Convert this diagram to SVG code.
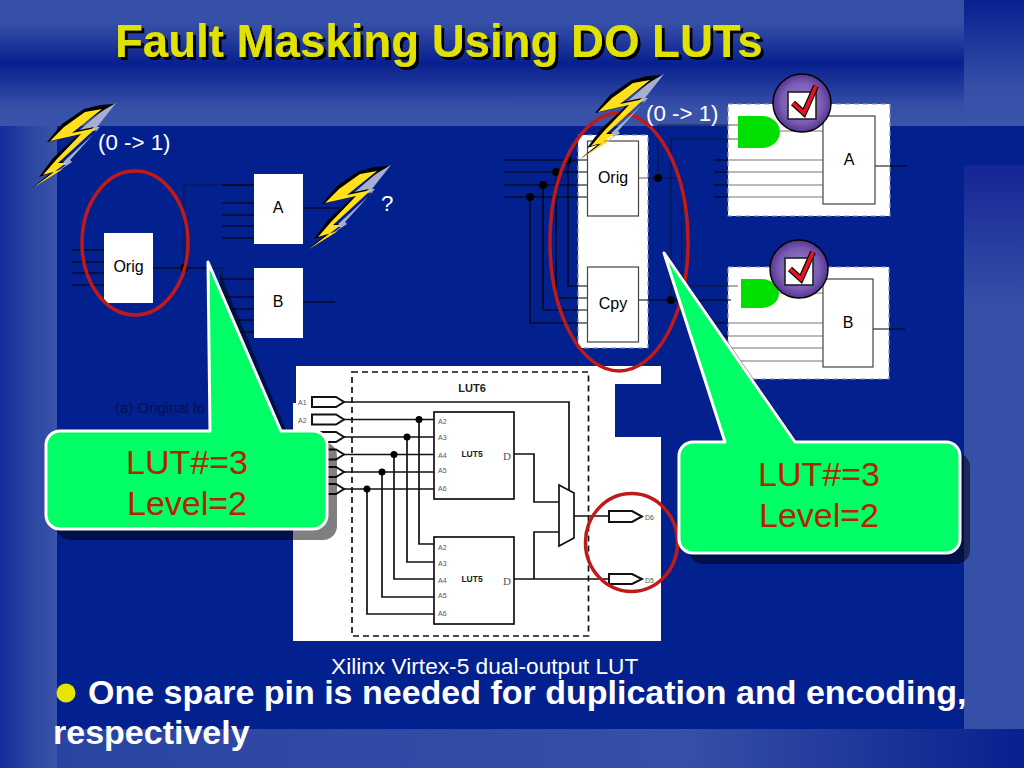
<svg xmlns="http://www.w3.org/2000/svg" xmlns:xlink="http://www.w3.org/1999/xlink" width="1024" height="768" viewBox="0 0 1024 768">
<style>
text{font-family:"Liberation Sans",Arial,sans-serif}
.w{fill:none;stroke:#000;stroke-width:1.2}
.thin{fill:none;stroke:#111;stroke-width:.7}
.g{fill:none;stroke:#777;stroke-width:1.2}
.box{fill:#fff;stroke:#444;stroke-width:1.2}
.plain{fill:#fff}
.lut{fill:none;stroke:#111;stroke-width:1.7}
.panel{fill:#fff;stroke:#8a93b8;stroke-width:1.2;stroke-dasharray:5 4}
.dot{fill:#000}
.red{fill:none;stroke:#bf1a1a;stroke-width:3.5}
.lbl{fill:#000;font-size:16px;text-anchor:middle}
.wl{fill:#fff;font-size:22.3px}
.tiny{fill:#555;font-size:7px}
.call{fill:#00ff66;stroke:#fff;stroke-width:3;stroke-linejoin:round}
.shadow{fill:#000;opacity:.5}
.ct{fill:#b32400;font-size:34px;text-anchor:middle}
.gate{fill:#00e000}
.port{fill:#fff;stroke:#111;stroke-width:2}
</style>
<defs>
<linearGradient id="top" x1="0" y1="0" x2="0" y2="1"><stop offset="0" stop-color="#3650a8"/><stop offset=".18" stop-color="#3650a8"/><stop offset=".5" stop-color="#08208f"/><stop offset=".85" stop-color="#3650a8"/><stop offset="1" stop-color="#3a54aa"/></linearGradient>
<linearGradient id="rtop" x1="0" y1="0" x2="0" y2="1"><stop offset="0" stop-color="#08208f"/><stop offset=".7" stop-color="#3650a8"/><stop offset="1" stop-color="#3a54aa"/></linearGradient>
<linearGradient id="rmid" x1="0" y1="0" x2="0" y2="1"><stop offset="0" stop-color="#152595"/><stop offset=".25" stop-color="#3650a8"/><stop offset="1" stop-color="#3650a8"/></linearGradient>
<linearGradient id="left" x1="0" y1="0" x2="1" y2="0"><stop offset="0" stop-color="#152c9a"/><stop offset=".5" stop-color="#2a44a2"/><stop offset="1" stop-color="#3a54aa"/></linearGradient>
<linearGradient id="bot" x1="0" y1="0" x2="1" y2="0"><stop offset="0" stop-color="#2a44a2"/><stop offset=".65" stop-color="#3650a8"/><stop offset="1" stop-color="#08208f"/></linearGradient>
<radialGradient id="pur"><stop offset="0" stop-color="#9a80d0"/><stop offset=".7" stop-color="#7a5cb4"/><stop offset="1" stop-color="#55368f"/></radialGradient>
<filter id="ts" x="-5%" y="-20%" width="110%" height="140%"><feDropShadow dx="3" dy="3" stdDeviation="0" flood-color="#000"/></filter>
<g id="bolt">
<polygon fill="#a8aed0" points="116,103 97,127 100,127 70,160 72,162 30,190 66,165 60,165 98,130 74,135 103,110"/>
<polygon fill="#000" points="114,104 100,105 84,109 62,124 47,142 78,135 53,158 39,177 58,171 32,188 64,162 56,161 94,127 70,132 104,110"/>
<polygon fill="#ffe01a" points="102,109 85,112 64,127 50,141 81,134 56,160 43,175 63,169 34,187 66,163 58,163 96,128 72,133"/>
</g>
<g id="check">
<circle r="29" fill="url(#pur)" stroke="#000" stroke-width="1.5"/>
<rect x="-14" y="-11" width="28" height="27" fill="#fff" stroke="#222" stroke-width="1.6"/>
<path d="M-9 0L2 10L14-17" fill="none" stroke="#000" stroke-width="6"/>
<path d="M-9 0L2 10L14-17" fill="none" stroke="#ee1122" stroke-width="3.6"/>
</g>
</defs>

<g id="background">
<rect width="1024" height="768" fill="#03208f"/>
<rect y="126" width="57" height="642" fill="url(#left)"/>
<rect y="729" x="57" width="967" height="39" fill="url(#bot)"/>
<rect y="165" x="964" width="60" height="564" fill="url(#rmid)"/>
<rect width="964" height="126" fill="url(#top)"/>
<rect x="964" width="60" height="126" fill="url(#rtop)"/>
</g>

<g id="title"><text x="115" y="57" font-size="45.6" font-weight="bold" fill="#e2e200" filter="url(#ts)">Fault Masking Using DO LUTs</text></g>

<g id="left-circuit-nodes">
<g id="node-orig-left"><rect class="plain" x="104" y="233" width="49" height="70"/><text class="lbl" x="128.500" y="272">Orig</text></g>
<g id="node-a-left"><rect class="plain" x="254" y="174" width="49" height="70"/><text class="lbl" x="278" y="213">A</text></g>
<g id="node-b-left"><rect class="plain" x="254" y="268" width="49" height="70"/><text class="lbl" x="278" y="307">B</text></g>
</g>
<g id="left-connectors">
<path class="w" d="M72 250H104M72 262H104M72 273H104M72 285H104M153 268H208M303 208H340M303 302H335"/>
<path class="thin" d="M184 268V185H254M208 268H222V279"/>
<path class="w" d="M222 185H254M222 203H254M222 215H254M222 226H254M222 238H254M222 279H254M222 297H254M222 309H254M222 320H254M222 332H254"/>
<circle class="dot" cx="184" cy="268" r="4"/>
</g>
<text id="label-original" x="115" y="413" font-size="15" fill="#03104f">(a) Original lo</text>
<ellipse id="ring-orig-left" class="red" cx="135" cy="243" rx="53" ry="72"/>
<use id="bolt-1" xlink:href="#bolt" href="#bolt"/>
<use id="bolt-2" xlink:href="#bolt" href="#bolt" transform="translate(275,62)"/>
<text class="wl" x="98" y="150">(0 -&gt; 1)</text>
<text class="wl" x="381" y="211" font-size="20">?</text>

<g id="right-circuit-nodes">
<g id="node-dup"><rect class="panel" x="578" y="135" width="70" height="213"/></g>
<g id="panel-a"><rect class="panel" x="728" y="104" width="162" height="112"/></g>
<g id="panel-b"><rect class="panel" x="728" y="267" width="161" height="112"/></g>
</g>
<g id="right-connectors">
<path class="w" d="M504 160H587M504 172H587M504 185H587M504 197H587M568 160V286H587M556 172V298H587M543 185V310H587M530 197V323H587M638 300H731M714 323H728M714 336H728"/>
<path class="thin" d="M648 178H682V286H738M658 178V125H738M671 139H738M671 139V300"/>
<path class="g" d="M638 178H648"/>
<path class="w" d="M714 160H728M714 172H728M714 185H728M714 197H728M875 166H907M873 329H905"/>
<path class="g" d="M728 160H823M728 172H823M728 185H823M728 197H823M728 323H823M728 336H823M728 348H823M728 361H823M780 131H823M779 293H823"/>
<circle class="dot" cx="568" cy="160" r="4"/><circle class="dot" cx="556" cy="172" r="4"/><circle class="dot" cx="543" cy="185" r="4"/><circle class="dot" cx="530" cy="197" r="4"/><circle class="dot" cx="658" cy="178" r="4"/><circle class="dot" cx="671" cy="300" r="4"/>
</g>
<g id="node-orig-right"><rect class="box" x="587.500" y="141" width="51" height="75"/><text class="lbl" x="613" y="183">Orig</text></g>
<g id="node-cpy"><rect class="box" x="587.500" y="267" width="51" height="75"/><text class="lbl" x="613" y="309">Cpy</text></g>
<g id="node-a-right"><rect class="box" x="823" y="116" width="52" height="88"/><text class="lbl" x="849" y="165">A</text></g>
<g id="node-b-right"><rect class="box" x="823" y="279" width="50" height="88"/><text class="lbl" x="848" y="328">B</text></g>
<path id="gate-a" class="gate" d="M738 116H762A18 16 0 0 1 762 148H738Z"/>
<path id="gate-b" class="gate" d="M741 279H761A18 14.500 0 0 1 761 308H741Z"/>
<use id="check-a" xlink:href="#check" href="#check" transform="translate(802,103)"/>
<use id="check-b" xlink:href="#check" href="#check" transform="translate(799,269)"/>
<text class="wl" x="646" y="121">(0 -&gt; 1)</text>

<g id="lut-figure">
<path fill="#fff" d="M296 366H661V384H615V437H661V641H293V403H296Z"/>
<rect x="352" y="372" width="236.500" height="264" fill="none" stroke="#111" stroke-width="1.700" stroke-dasharray="6 4"/>
<text x="472" y="392" font-size="11" font-weight="bold" text-anchor="middle" fill="#222">LUT6</text>
<g id="lut-connectors">
<path class="lut" d="M344 402H569V490M344 419.500H434M344 437H434M344 454.500H434M344 472H434M344 489H434M419 419.500V544H434M407 437V562H434M394 454.500V579H434M382 472V597H434M367 489V614H434M514 454H534V502H559M514 579H608M534 579V532H559M574 516H608"/>
<circle class="dot" cx="419" cy="419.500" r="3.500"/><circle class="dot" cx="407" cy="437" r="3.500"/><circle class="dot" cx="394" cy="454.500" r="3.500"/><circle class="dot" cx="382" cy="472" r="3.500"/><circle class="dot" cx="367" cy="489" r="3.500"/>
</g>
<g id="lut5-top"><rect x="434" y="412" width="80" height="87" fill="#fff" stroke="#111" stroke-width="1.700"/>
<text class="tiny" x="438" y="424">A2</text><text class="tiny" x="438" y="440">A3</text><text class="tiny" x="438" y="458">A4</text><text class="tiny" x="438" y="473">A5</text><text class="tiny" x="438" y="491">A6</text>
<text x="472" y="457" font-size="8.500" font-weight="bold" text-anchor="middle" fill="#222">LUT5</text><text x="503" y="460" font-size="11" fill="#555" style="font-family:'Liberation Serif',serif">D</text></g>
<g id="lut5-bottom"><rect x="434" y="537" width="80" height="87" fill="#fff" stroke="#111" stroke-width="1.700"/>
<text class="tiny" x="438" y="550">A2</text><text class="tiny" x="438" y="566">A3</text><text class="tiny" x="438" y="583">A4</text><text class="tiny" x="438" y="598">A5</text><text class="tiny" x="438" y="616">A6</text>
<text x="472" y="582" font-size="8.500" font-weight="bold" text-anchor="middle" fill="#222">LUT5</text><text x="503" y="585" font-size="11" fill="#555" style="font-family:'Liberation Serif',serif">D</text></g>
<polygon id="mux" points="559,485 574,493 574,538 559,546" fill="#fff" stroke="#111" stroke-width="1.700"/>
<g id="ports">
<polygon class="port" points="312,397 336,397 344,402 336,407 312,407"/><polygon class="port" points="312,414.500 336,414.500 344,419.500 336,424.500 312,424.500"/><polygon class="port" points="312,432 336,432 344,437 336,442 312,442"/><polygon class="port" points="312,449.500 336,449.500 344,454.500 336,459.500 312,459.500"/><polygon class="port" points="312,467 336,467 344,472 336,477 312,477"/><polygon class="port" points="312,484 336,484 344,489 336,494 312,494"/>
<polygon class="port" points="609,511 632,511 642,516.500 632,522 609,522"/><polygon class="port" points="609,574 632,574 642,579 632,584 609,584"/>
<text class="tiny" x="298" y="405">A1</text><text class="tiny" x="298" y="423">A2</text><text class="tiny" x="645" y="520">D6</text><text class="tiny" x="645" y="583">D5</text>
</g>
</g>

<ellipse id="ring-dup" class="red" cx="619" cy="242" rx="69" ry="129"/>
<ellipse id="ring-out" class="red" cx="631.500" cy="542.500" rx="46" ry="49"/>
<use id="bolt-3" xlink:href="#bolt" href="#bolt" transform="translate(548,-29)"/>

<g id="callout-left">
<path class="shadow" transform="translate(10,11)" d="M60 431H210V262L281 431H313A14 14 0 0 1 327 445V515A14 14 0 0 1 313 529H60A14 14 0 0 1 46 515V445A14 14 0 0 1 60 431Z"/>
<path class="call" d="M60 431H210L208 262L281 431H313A14 14 0 0 1 327 445V515A14 14 0 0 1 313 529H60A14 14 0 0 1 46 515V445A14 14 0 0 1 60 431Z"/>
<text class="ct" x="187" y="474">LUT#=3</text><text class="ct" x="187" y="515">Level=2</text>
</g>
<g id="callout-right">
<path class="shadow" transform="translate(10,11)" d="M693 442H725L664 253L795 442H946A14 14 0 0 1 960 456V539A14 14 0 0 1 946 553H693A14 14 0 0 1 679 539V456A14 14 0 0 1 693 442Z"/>
<path class="call" d="M693 442H725L664 253L795 442H946A14 14 0 0 1 960 456V539A14 14 0 0 1 946 553H693A14 14 0 0 1 679 539V456A14 14 0 0 1 693 442Z"/>
<text class="ct" x="819" y="486">LUT#=3</text><text class="ct" x="819" y="527">Level=2</text>
</g>

<text id="caption" x="331" y="674" font-size="22.700" fill="#fff">Xilinx Virtex-5 dual-output LUT</text>
<g id="bullet-text">
<circle cx="66" cy="693" r="9.500" fill="#e6e600"/>
<text x="88" y="704" font-size="34" font-weight="bold" fill="#fff">One spare pin is needed for duplication and encoding,</text>
<text x="53" y="744" font-size="34" font-weight="bold" fill="#fff">respectively</text>
</g>
</svg>
